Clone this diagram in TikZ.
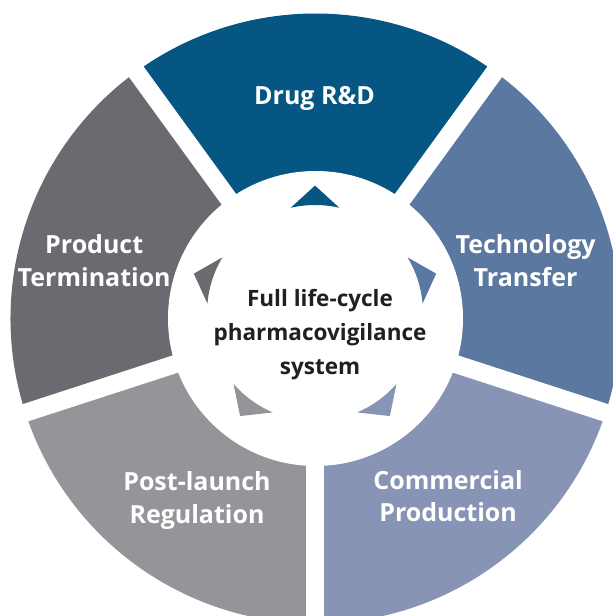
\documentclass[tikz,border=0pt]{standalone}
\usepackage{fontspec}
\setmainfont{Open Sans}
\usetikzlibrary{positioning}

\definecolor{rdblue}{HTML}{065683}
\definecolor{techblue}{HTML}{5B78A0}
\definecolor{prodblue}{HTML}{8794B5}
\definecolor{reggray}{HTML}{949599}
\definecolor{termgray}{HTML}{6A6B70}
\definecolor{hubtext}{HTML}{231F20}

\begin{document}
\begin{tikzpicture}[x=1pt, y=1pt,
    seglabel/.style={text=white, font=\bfseries\fontsize{25}{32.5}\selectfont, align=center},
    hublabel/.style={text=hubtext, font=\bfseries\fontsize{22.5}{34}\selectfont, align=center}]
  \useasboundingbox (-315.5,-297.5) rectangle (297.5,318.5);
  \clip (-315.5,-297.5) rectangle (297.5,318.5);

  % ring segments
  \foreach \a/\col in {90/rdblue, 18/techblue, -54/prodblue, -126/reggray, 162/termgray}
    \fill[\col] (0,0) -- (\a-36:305) arc[start angle=\a-36, end angle=\a+36, radius=305] -- cycle;
  \fill[white] (0,0) circle[radius=147.5];
  % gaps between segments
  \foreach \a in {54,126,198,270,342}
    \draw[white, line width=18pt] (0,0) -- (\a:330);

  % arrowheads inside the hub
  \foreach \a/\col in {90/rdblue, 18/techblue, -54/prodblue, -126/reggray, 162/termgray}
    \fill[\col, shift={(-0.5,5.5)}] (\a:127.4) -- (\a+13:108)
      arc[start angle=\a+13, end angle=\a-13, radius=108] -- cycle;

  \node[seglabel, anchor=base] (drug) at (-1,213.7) {Drug R\&D};
  \node[seglabel] (tech) at (210.1,58) {Technology\\Transfer};
  \node[seglabel] (comm) at (132.6,-177.4) {Commercial\\Production};
  \node[seglabel] (post) at (-118.5,-181.9) {Post-launch\\Regulation};
  \node[seglabel] (term) at (-221.3,58) {Product\\Termination};
  \node[hublabel] (hub) at (4.5,-16.5) {Full life-cycle\\pharmacovigilance\\system};
\end{tikzpicture}
\end{document}
